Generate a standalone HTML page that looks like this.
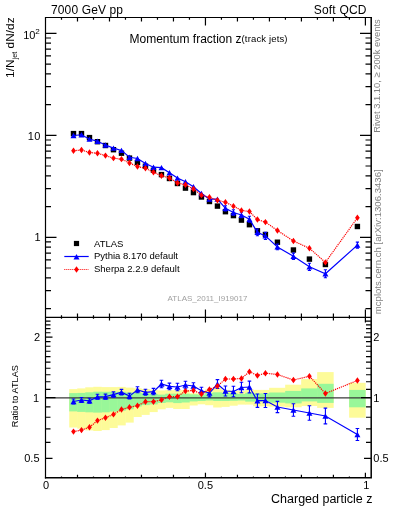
<!DOCTYPE html><html><head><meta charset="utf-8"><style>html,body{margin:0;padding:0;background:#fff;width:393px;height:512px;overflow:hidden}svg{display:block;will-change:transform}text{font-family:"Liberation Sans",sans-serif}</style></head><body>
<svg width="393" height="512" viewBox="0 0 393 512">
<g fill="#fdfb99"><rect x="69.24" y="389.10" width="8.50" height="38.40"/><rect x="77.24" y="388.40" width="8.50" height="40.30"/><rect x="85.24" y="387.30" width="8.50" height="43.10"/><rect x="93.24" y="386.80" width="8.50" height="44.20"/><rect x="101.23" y="387.10" width="8.50" height="43.00"/><rect x="109.23" y="387.10" width="8.50" height="40.90"/><rect x="117.23" y="386.90" width="8.50" height="38.50"/><rect x="125.22" y="387.60" width="8.50" height="35.00"/><rect x="133.22" y="388.30" width="8.50" height="28.70"/><rect x="141.22" y="389.00" width="8.50" height="25.90"/><rect x="149.22" y="389.70" width="8.50" height="22.40"/><rect x="157.22" y="390.40" width="8.50" height="18.90"/><rect x="165.21" y="390.20" width="8.50" height="17.70"/><rect x="173.21" y="390.20" width="8.50" height="18.80"/><rect x="181.21" y="390.20" width="8.50" height="18.80"/><rect x="189.20" y="393.20" width="8.50" height="12.30"/><rect x="197.20" y="393.70" width="8.50" height="10.60"/><rect x="205.20" y="389.30" width="8.50" height="15.90"/><rect x="213.20" y="387.60" width="8.50" height="19.90"/><rect x="221.19" y="389.90" width="8.50" height="17.00"/><rect x="229.19" y="390.50" width="8.50" height="15.20"/><rect x="237.19" y="391.10" width="8.50" height="13.50"/><rect x="245.19" y="389.30" width="8.50" height="15.30"/><rect x="253.19" y="389.90" width="8.50" height="16.40"/><rect x="261.18" y="389.90" width="8.50" height="16.40"/><rect x="269.18" y="387.80" width="16.50" height="18.80"/><rect x="285.17" y="384.70" width="16.50" height="22.60"/><rect x="301.17" y="379.10" width="16.50" height="26.90"/><rect x="317.16" y="372.10" width="16.50" height="35.80"/><rect x="349.15" y="382.80" width="16.50" height="34.90"/></g>
<g fill="#99f799"><rect x="69.24" y="393.10" width="8.50" height="18.30"/><rect x="77.24" y="392.90" width="8.50" height="19.00"/><rect x="85.24" y="392.30" width="8.50" height="20.00"/><rect x="93.24" y="391.70" width="8.50" height="20.90"/><rect x="101.23" y="391.80" width="8.50" height="20.50"/><rect x="109.23" y="391.80" width="8.50" height="19.80"/><rect x="117.23" y="391.80" width="8.50" height="18.90"/><rect x="125.22" y="392.50" width="8.50" height="16.80"/><rect x="133.22" y="392.90" width="8.50" height="13.60"/><rect x="141.22" y="393.20" width="8.50" height="11.90"/><rect x="149.22" y="393.90" width="8.50" height="10.50"/><rect x="157.22" y="394.60" width="8.50" height="8.40"/><rect x="165.21" y="393.70" width="8.50" height="8.60"/><rect x="173.21" y="393.70" width="8.50" height="9.40"/><rect x="181.21" y="393.70" width="8.50" height="8.80"/><rect x="189.20" y="394.30" width="8.50" height="7.10"/><rect x="197.20" y="394.60" width="8.50" height="6.40"/><rect x="205.20" y="392.80" width="8.50" height="7.70"/><rect x="213.20" y="392.30" width="8.50" height="8.70"/><rect x="221.19" y="392.80" width="8.50" height="8.20"/><rect x="229.19" y="393.40" width="8.50" height="7.40"/><rect x="237.19" y="394.00" width="8.50" height="6.50"/><rect x="245.19" y="392.80" width="8.50" height="8.80"/><rect x="253.19" y="393.40" width="8.50" height="8.20"/><rect x="261.18" y="393.40" width="8.50" height="7.80"/><rect x="269.18" y="392.50" width="16.50" height="10.20"/><rect x="285.17" y="390.90" width="16.50" height="12.50"/><rect x="301.17" y="388.40" width="16.50" height="13.00"/><rect x="317.16" y="383.80" width="16.50" height="19.10"/><rect x="349.15" y="389.90" width="16.50" height="17.40"/></g>
<line x1="45.5" y1="397.9" x2="371" y2="397.9" stroke="#3a3a3a" stroke-width="1.4"/>
<g stroke="#000" stroke-width="1.2" fill="none">
<path d="M45.5 16.9V478.4M44.9 17.5H371.95"/>
<path stroke-width="1.5" d="M371.2 16.9V478.4M44.9 477.65H371.95"/>
<line x1="45.5" y1="317.4" x2="371" y2="317.4"/>
<path d="M61.49 17.5v2.2M61.49 317.4v-2.2M61.49 317.4v1.3M61.49 477.7v-1.3M77.49 17.5v4M77.49 317.4v-4M77.49 317.4v3M77.49 477.7v-3M93.49 17.5v2.2M93.49 317.4v-2.2M93.49 317.4v1.3M93.49 477.7v-1.3M109.48 17.5v4M109.48 317.4v-4M109.48 317.4v3M109.48 477.7v-3M125.47 17.5v2.2M125.47 317.4v-2.2M125.47 317.4v1.3M125.47 477.7v-1.3M141.47 17.5v4M141.47 317.4v-4M141.47 317.4v3M141.47 477.7v-3M157.47 17.5v2.2M157.47 317.4v-2.2M157.47 317.4v1.3M157.47 477.7v-1.3M173.46 17.5v4M173.46 317.4v-4M173.46 317.4v3M173.46 477.7v-3M189.45 17.5v2.2M189.45 317.4v-2.2M189.45 317.4v1.3M189.45 477.7v-1.3M205.45 17.5v8M205.45 317.4v-8M205.45 317.4v5M205.45 477.7v-5M221.44 17.5v2.2M221.44 317.4v-2.2M221.44 317.4v1.3M221.44 477.7v-1.3M237.44 17.5v4M237.44 317.4v-4M237.44 317.4v3M237.44 477.7v-3M253.44 17.5v2.2M253.44 317.4v-2.2M253.44 317.4v1.3M253.44 477.7v-1.3M269.43 17.5v4M269.43 317.4v-4M269.43 317.4v3M269.43 477.7v-3M285.42 17.5v2.2M285.42 317.4v-2.2M285.42 317.4v1.3M285.42 477.7v-1.3M301.42 17.5v4M301.42 317.4v-4M301.42 317.4v3M301.42 477.7v-3M317.42 17.5v2.2M317.42 317.4v-2.2M317.42 317.4v1.3M317.42 477.7v-1.3M333.41 17.5v4M333.41 317.4v-4M333.41 317.4v3M333.41 477.7v-3M349.40 17.5v2.2M349.40 317.4v-2.2M349.40 317.4v1.3M349.40 477.7v-1.3M365.40 17.5v8M365.40 317.4v-8M365.40 317.4v5M365.40 477.7v-5"/>
<path d="M45.5 308.58h5.5M371 308.58h-5.5M45.5 290.62h5.5M371 290.62h-5.5M45.5 277.88h5.5M371 277.88h-5.5M45.5 268.00h5.5M371 268.00h-5.5M45.5 259.92h5.5M371 259.92h-5.5M45.5 253.10h5.5M371 253.10h-5.5M45.5 247.18h5.5M371 247.18h-5.5M45.5 241.97h5.5M371 241.97h-5.5M45.5 237.30h11M371 237.30h-11M45.5 206.60h5.5M371 206.60h-5.5M45.5 188.64h5.5M371 188.64h-5.5M45.5 175.90h5.5M371 175.90h-5.5M45.5 166.02h5.5M371 166.02h-5.5M45.5 157.94h5.5M371 157.94h-5.5M45.5 151.12h5.5M371 151.12h-5.5M45.5 145.20h5.5M371 145.20h-5.5M45.5 139.99h5.5M371 139.99h-5.5M45.5 135.32h11M371 135.32h-11M45.5 104.62h5.5M371 104.62h-5.5M45.5 86.66h5.5M371 86.66h-5.5M45.5 73.92h5.5M371 73.92h-5.5M45.5 64.04h5.5M371 64.04h-5.5M45.5 55.96h5.5M371 55.96h-5.5M45.5 49.14h5.5M371 49.14h-5.5M45.5 43.22h5.5M371 43.22h-5.5M45.5 38.01h5.5M371 38.01h-5.5M45.5 33.34h11M371 33.34h-11"/>
<path d="M45.5 458.36h7M371 458.36h-7M45.5 442.40h5M371 442.40h-5M45.5 428.91h5M371 428.91h-5M45.5 417.23h5M371 417.23h-5M45.5 406.92h5M371 406.92h-5M45.5 397.70h10M371 397.70h-10M45.5 389.36h5M371 389.36h-5M45.5 381.74h5M371 381.74h-5M45.5 374.74h5M371 374.74h-5M45.5 368.26h5M371 368.26h-5M45.5 362.22h5M371 362.22h-5M45.5 356.57h5M371 356.57h-5M45.5 351.26h5M371 351.26h-5M45.5 346.26h5M371 346.26h-5M45.5 341.53h5M371 341.53h-5M45.5 337.04h7M371 337.04h-7M45.5 332.77h5M371 332.77h-5M45.5 328.70h5M371 328.70h-5M45.5 324.81h5M371 324.81h-5M45.5 321.09h5M371 321.09h-5M45.5 317.52h5M371 317.52h-5"/>
</g>
<g>
<g fill="#000"><rect x="70.79" y="130.90" width="5.4" height="5.4"/><rect x="78.79" y="130.90" width="5.4" height="5.4"/><rect x="86.79" y="134.90" width="5.4" height="5.4"/><rect x="94.78" y="139.00" width="5.4" height="5.4"/><rect x="102.78" y="142.80" width="5.4" height="5.4"/><rect x="110.78" y="147.00" width="5.4" height="5.4"/><rect x="118.78" y="150.50" width="5.4" height="5.4"/><rect x="126.77" y="155.40" width="5.4" height="5.4"/><rect x="134.77" y="159.80" width="5.4" height="5.4"/><rect x="142.77" y="163.50" width="5.4" height="5.4"/><rect x="150.77" y="167.60" width="5.4" height="5.4"/><rect x="158.76" y="171.90" width="5.4" height="5.4"/><rect x="166.76" y="175.80" width="5.4" height="5.4"/><rect x="174.76" y="180.80" width="5.4" height="5.4"/><rect x="182.76" y="185.40" width="5.4" height="5.4"/><rect x="190.75" y="189.90" width="5.4" height="5.4"/><rect x="198.75" y="194.30" width="5.4" height="5.4"/><rect x="206.75" y="198.80" width="5.4" height="5.4"/><rect x="214.75" y="203.40" width="5.4" height="5.4"/><rect x="222.74" y="209.00" width="5.4" height="5.4"/><rect x="230.74" y="212.90" width="5.4" height="5.4"/><rect x="238.74" y="217.40" width="5.4" height="5.4"/><rect x="246.74" y="222.00" width="5.4" height="5.4"/><rect x="254.73" y="228.10" width="5.4" height="5.4"/><rect x="262.73" y="231.80" width="5.4" height="5.4"/><rect x="274.73" y="239.50" width="5.4" height="5.4"/><rect x="290.72" y="247.30" width="5.4" height="5.4"/><rect x="306.72" y="256.40" width="5.4" height="5.4"/><rect x="322.71" y="261.80" width="5.4" height="5.4"/><rect x="354.70" y="223.80" width="5.4" height="5.4"/></g>
<polyline points="73.49,135.52 81.49,134.76 89.49,139.17 97.48,141.24 105.48,144.99 113.48,148.13 121.48,150.42 129.47,157.29 137.47,158.50 145.47,163.47 153.47,167.22 161.46,167.67 169.46,172.79 177.46,178.09 185.46,181.68 193.45,186.68 201.45,193.51 209.45,199.17 217.45,199.17 225.44,208.31 233.44,212.46 241.44,214.94 249.44,219.29 257.43,232.32 265.43,235.92 277.43,246.90 293.42,256.22 309.42,266.84 325.41,273.75 357.40,245.11" fill="none" stroke="#00f" stroke-width="1.2"/>
<path stroke="#00f" stroke-width="1.1" d="M225.44 205.78V210.84M223.84 205.78h3.2M223.84 210.84h3.2M233.44 209.78V215.14M231.84 209.78h3.2M231.84 215.14h3.2M241.44 212.26V217.62M239.84 212.26h3.2M239.84 217.62h3.2M249.44 216.31V222.27M247.84 216.31h3.2M247.84 222.27h3.2M257.43 228.93V235.71M255.83 228.93h3.2M255.83 235.71h3.2M265.43 232.38V239.46M263.83 232.38h3.2M263.83 239.46h3.2M277.43 244.07V249.74M275.83 244.07h3.2M275.83 249.74h3.2M293.42 253.08V259.36M291.82 253.08h3.2M291.82 259.36h3.2M309.42 263.20V270.48M307.82 263.20h3.2M307.82 270.48h3.2M325.41 269.76V277.75M323.81 269.76h3.2M323.81 277.75h3.2M357.40 242.08V248.14M355.80 242.08h3.2M355.80 248.14h3.2"/>
<path fill="#00f" d="M70.49 138.22L73.49 132.82L76.49 138.22ZM78.49 137.46L81.49 132.06L84.49 137.46ZM86.49 141.87L89.49 136.47L92.49 141.87ZM94.48 143.94L97.48 138.54L100.48 143.94ZM102.48 147.69L105.48 142.29L108.48 147.69ZM110.48 150.83L113.48 145.43L116.48 150.83ZM118.48 153.12L121.48 147.72L124.48 153.12ZM126.47 159.99L129.47 154.59L132.47 159.99ZM134.47 161.20L137.47 155.80L140.47 161.20ZM142.47 166.17L145.47 160.77L148.47 166.17ZM150.47 169.92L153.47 164.52L156.47 169.92ZM158.46 170.37L161.46 164.97L164.46 170.37ZM166.46 175.49L169.46 170.09L172.46 175.49ZM174.46 180.79L177.46 175.39L180.46 180.79ZM182.46 184.38L185.46 178.98L188.46 184.38ZM190.45 189.38L193.45 183.98L196.45 189.38ZM198.45 196.21L201.45 190.81L204.45 196.21ZM206.45 201.87L209.45 196.47L212.45 201.87ZM214.45 201.87L217.45 196.47L220.45 201.87ZM222.44 211.01L225.44 205.61L228.44 211.01ZM230.44 215.16L233.44 209.76L236.44 215.16ZM238.44 217.64L241.44 212.24L244.44 217.64ZM246.44 221.99L249.44 216.59L252.44 221.99ZM254.43 235.02L257.43 229.62L260.43 235.02ZM262.43 238.62L265.43 233.22L268.43 238.62ZM274.43 249.60L277.43 244.20L280.43 249.60ZM290.42 258.92L293.42 253.52L296.42 258.92ZM306.42 269.54L309.42 264.14L312.42 269.54ZM322.41 276.45L325.41 271.05L328.41 276.45ZM354.40 247.81L357.40 242.41L360.40 247.81Z"/>
<polyline points="73.49,150.74 81.49,149.98 89.49,152.52 97.48,153.28 105.48,155.61 113.48,158.15 121.48,159.17 129.47,162.95 137.47,166.55 145.47,168.22 153.47,172.32 161.46,175.71 169.46,177.99 177.46,182.94 185.46,184.76 193.45,188.96 201.45,195.13 209.45,197.30 217.45,200.23 225.44,202.24 233.44,206.14 241.44,210.39 249.44,211.55 257.43,219.57 265.43,222.11 277.43,230.47 293.42,241.05 309.42,248.23 325.41,262.38 357.40,217.80" fill="none" stroke="#f00" stroke-width="1.2" stroke-dasharray="1.2 0.9"/>
<path fill="#f00" d="M73.49 147.54L75.84 150.74L73.49 153.94L71.14 150.74ZM81.49 146.78L83.84 149.98L81.49 153.18L79.14 149.98ZM89.49 149.32L91.84 152.52L89.49 155.72L87.14 152.52ZM97.48 150.08L99.83 153.28L97.48 156.48L95.13 153.28ZM105.48 152.41L107.83 155.61L105.48 158.81L103.13 155.61ZM113.48 154.95L115.83 158.15L113.48 161.35L111.13 158.15ZM121.48 155.97L123.83 159.17L121.48 162.37L119.13 159.17ZM129.47 159.75L131.82 162.95L129.47 166.15L127.12 162.95ZM137.47 163.35L139.82 166.55L137.47 169.75L135.12 166.55ZM145.47 165.02L147.82 168.22L145.47 171.42L143.12 168.22ZM153.47 169.12L155.82 172.32L153.47 175.52L151.12 172.32ZM161.46 172.51L163.81 175.71L161.46 178.91L159.11 175.71ZM169.46 174.79L171.81 177.99L169.46 181.19L167.11 177.99ZM177.46 179.74L179.81 182.94L177.46 186.14L175.11 182.94ZM185.46 181.56L187.81 184.76L185.46 187.96L183.11 184.76ZM193.45 185.76L195.80 188.96L193.45 192.16L191.10 188.96ZM201.45 191.93L203.80 195.13L201.45 198.33L199.10 195.13ZM209.45 194.10L211.80 197.30L209.45 200.50L207.10 197.30ZM217.45 197.03L219.80 200.23L217.45 203.43L215.10 200.23ZM225.44 199.04L227.79 202.24L225.44 205.44L223.09 202.24ZM233.44 202.94L235.79 206.14L233.44 209.34L231.09 206.14ZM241.44 207.19L243.79 210.39L241.44 213.59L239.09 210.39ZM249.44 208.35L251.79 211.55L249.44 214.75L247.09 211.55ZM257.43 216.37L259.78 219.57L257.43 222.77L255.08 219.57ZM265.43 218.91L267.78 222.11L265.43 225.31L263.08 222.11ZM277.43 227.27L279.78 230.47L277.43 233.67L275.08 230.47ZM293.42 237.85L295.77 241.05L293.42 244.25L291.07 241.05ZM309.42 245.03L311.77 248.23L309.42 251.43L307.07 248.23ZM325.41 259.18L327.76 262.38L325.41 265.58L323.06 262.38ZM357.40 214.60L359.75 217.80L357.40 221.00L355.05 217.80Z"/>
</g>
<polyline points="73.49,401.50 81.49,400.00 89.49,400.80 97.48,396.80 105.48,396.70 113.48,394.60 121.48,392.20 129.47,396.10 137.47,389.80 145.47,392.30 153.47,391.60 161.46,384.00 169.46,386.40 177.46,387.00 185.46,385.00 193.45,386.00 201.45,390.80 209.45,393.10 217.45,384.00 225.44,391.00 233.44,391.50 241.44,387.50 249.44,387.00 257.43,400.70 265.43,400.50 277.43,407.00 293.42,410.00 309.42,413.00 325.41,416.00 357.40,434.50" fill="none" stroke="#00f" stroke-width="1.2"/>
<path stroke="#00f" stroke-width="1.1" d="M73.49 399.00V404.00M71.69 399.00h3.6M71.69 404.00h3.6M81.49 397.50V402.50M79.69 397.50h3.6M79.69 402.50h3.6M89.49 398.30V403.30M87.69 398.30h3.6M87.69 403.30h3.6M97.48 394.30V399.30M95.68 394.30h3.6M95.68 399.30h3.6M105.48 394.10V399.30M103.68 394.10h3.6M103.68 399.30h3.6M113.48 391.90V397.30M111.68 391.90h3.6M111.68 397.30h3.6M121.48 389.40V395.00M119.68 389.40h3.6M119.68 395.00h3.6M129.47 393.30V398.90M127.67 393.30h3.6M127.67 398.90h3.6M137.47 386.80V392.80M135.67 386.80h3.6M135.67 392.80h3.6M145.47 389.30V395.30M143.67 389.30h3.6M143.67 395.30h3.6M153.47 388.40V394.80M151.67 388.40h3.6M151.67 394.80h3.6M161.46 380.20V387.80M159.66 380.20h3.6M159.66 387.80h3.6M169.46 383.10V389.70M167.66 383.10h3.6M167.66 389.70h3.6M177.46 383.20V390.80M175.66 383.20h3.6M175.66 390.80h3.6M185.46 381.20V388.80M183.66 381.20h3.6M183.66 388.80h3.6M193.45 382.80V389.20M191.65 382.80h3.6M191.65 389.20h3.6M201.45 387.30V394.30M199.65 387.30h3.6M199.65 394.30h3.6M209.45 389.30V396.90M207.65 389.30h3.6M207.65 396.90h3.6M217.45 379.60V388.40M215.65 379.60h3.6M215.65 388.40h3.6M225.44 386.00V396.00M223.64 386.00h3.6M223.64 396.00h3.6M233.44 386.20V396.80M231.64 386.20h3.6M231.64 396.80h3.6M241.44 382.20V392.80M239.64 382.20h3.6M239.64 392.80h3.6M249.44 381.10V392.90M247.64 381.10h3.6M247.64 392.90h3.6M257.43 394.00V407.40M255.63 394.00h3.6M255.63 407.40h3.6M265.43 393.50V407.50M263.63 393.50h3.6M263.63 407.50h3.6M277.43 401.40V412.60M275.63 401.40h3.6M275.63 412.60h3.6M293.42 403.80V416.20M291.62 403.80h3.6M291.62 416.20h3.6M309.42 405.80V420.20M307.62 405.80h3.6M307.62 420.20h3.6M325.41 408.10V423.90M323.61 408.10h3.6M323.61 423.90h3.6M357.40 428.50V440.50M355.60 428.50h3.6M355.60 440.50h3.6"/>
<path fill="#00f" d="M70.49 404.20L73.49 398.80L76.49 404.20ZM78.49 402.70L81.49 397.30L84.49 402.70ZM86.49 403.50L89.49 398.10L92.49 403.50ZM94.48 399.50L97.48 394.10L100.48 399.50ZM102.48 399.40L105.48 394.00L108.48 399.40ZM110.48 397.30L113.48 391.90L116.48 397.30ZM118.48 394.90L121.48 389.50L124.48 394.90ZM126.47 398.80L129.47 393.40L132.47 398.80ZM134.47 392.50L137.47 387.10L140.47 392.50ZM142.47 395.00L145.47 389.60L148.47 395.00ZM150.47 394.30L153.47 388.90L156.47 394.30ZM158.46 386.70L161.46 381.30L164.46 386.70ZM166.46 389.10L169.46 383.70L172.46 389.10ZM174.46 389.70L177.46 384.30L180.46 389.70ZM182.46 387.70L185.46 382.30L188.46 387.70ZM190.45 388.70L193.45 383.30L196.45 388.70ZM198.45 393.50L201.45 388.10L204.45 393.50ZM206.45 395.80L209.45 390.40L212.45 395.80ZM214.45 386.70L217.45 381.30L220.45 386.70ZM222.44 393.70L225.44 388.30L228.44 393.70ZM230.44 394.20L233.44 388.80L236.44 394.20ZM238.44 390.20L241.44 384.80L244.44 390.20ZM246.44 389.70L249.44 384.30L252.44 389.70ZM254.43 403.40L257.43 398.00L260.43 403.40ZM262.43 403.20L265.43 397.80L268.43 403.20ZM274.43 409.70L277.43 404.30L280.43 409.70ZM290.42 412.70L293.42 407.30L296.42 412.70ZM306.42 415.70L309.42 410.30L312.42 415.70ZM322.41 418.70L325.41 413.30L328.41 418.70ZM354.40 437.20L357.40 431.80L360.40 437.20Z"/>
<polyline points="73.49,431.60 81.49,430.10 89.49,427.20 97.48,420.60 105.48,417.70 113.48,414.40 121.48,409.50 129.47,407.30 137.47,405.70 145.47,401.70 153.47,401.70 161.46,399.90 169.46,396.70 177.46,396.60 185.46,391.10 193.45,390.50 201.45,394.00 209.45,389.40 217.45,386.10 225.44,379.00 233.44,379.00 241.44,378.50 249.44,371.70 257.43,375.50 265.43,373.20 277.43,374.50 293.42,380.00 309.42,376.20 325.41,393.50 357.40,380.50" fill="none" stroke="#f00" stroke-width="1.2" stroke-dasharray="1.2 0.9"/>
<path fill="#f00" d="M73.49 428.40L75.84 431.60L73.49 434.80L71.14 431.60ZM81.49 426.90L83.84 430.10L81.49 433.30L79.14 430.10ZM89.49 424.00L91.84 427.20L89.49 430.40L87.14 427.20ZM97.48 417.40L99.83 420.60L97.48 423.80L95.13 420.60ZM105.48 414.50L107.83 417.70L105.48 420.90L103.13 417.70ZM113.48 411.20L115.83 414.40L113.48 417.60L111.13 414.40ZM121.48 406.30L123.83 409.50L121.48 412.70L119.13 409.50ZM129.47 404.10L131.82 407.30L129.47 410.50L127.12 407.30ZM137.47 402.50L139.82 405.70L137.47 408.90L135.12 405.70ZM145.47 398.50L147.82 401.70L145.47 404.90L143.12 401.70ZM153.47 398.50L155.82 401.70L153.47 404.90L151.12 401.70ZM161.46 396.70L163.81 399.90L161.46 403.10L159.11 399.90ZM169.46 393.50L171.81 396.70L169.46 399.90L167.11 396.70ZM177.46 393.40L179.81 396.60L177.46 399.80L175.11 396.60ZM185.46 387.90L187.81 391.10L185.46 394.30L183.11 391.10ZM193.45 387.30L195.80 390.50L193.45 393.70L191.10 390.50ZM201.45 390.80L203.80 394.00L201.45 397.20L199.10 394.00ZM209.45 386.20L211.80 389.40L209.45 392.60L207.10 389.40ZM217.45 382.90L219.80 386.10L217.45 389.30L215.10 386.10ZM225.44 375.80L227.79 379.00L225.44 382.20L223.09 379.00ZM233.44 375.80L235.79 379.00L233.44 382.20L231.09 379.00ZM241.44 375.30L243.79 378.50L241.44 381.70L239.09 378.50ZM249.44 368.50L251.79 371.70L249.44 374.90L247.09 371.70ZM257.43 372.30L259.78 375.50L257.43 378.70L255.08 375.50ZM265.43 370.00L267.78 373.20L265.43 376.40L263.08 373.20ZM277.43 371.30L279.78 374.50L277.43 377.70L275.08 374.50ZM293.42 376.80L295.77 380.00L293.42 383.20L291.07 380.00ZM309.42 373.00L311.77 376.20L309.42 379.40L307.07 376.20ZM325.41 390.30L327.76 393.50L325.41 396.70L323.06 393.50ZM357.40 377.30L359.75 380.50L357.40 383.70L355.05 380.50Z"/>
<rect x="73.9" y="240.9" width="5.2" height="5.2" fill="#000"/>
<line x1="64.3" y1="256.5" x2="88.7" y2="256.5" stroke="#00f" stroke-width="1.2"/>
<path fill="#00f" d="M73.50 259.50L76.50 254.10L79.50 259.50Z"/>
<line x1="64.3" y1="269.5" x2="88.7" y2="269.5" stroke="#f00" stroke-width="1" stroke-dasharray="1 1"/>
<path fill="#f00" d="M76.50 266.30L78.85 269.50L76.50 272.70L74.15 269.50Z"/>
<g font-size="9.5" fill="#000">
<text x="94" y="247">ATLAS</text>
<text x="94" y="259.3">Pythia 8.170 default</text>
<text x="94" y="271.6">Sherpa 2.2.9 default</text>
</g>
<text x="51" y="14.2" font-size="12" letter-spacing="0.13">7000 GeV pp</text>
<text x="366.7" y="14.2" font-size="12" text-anchor="end" letter-spacing="0.2">Soft QCD</text>
<text x="129.5" y="43" font-size="12">Momentum fraction z<tspan font-size="9.5" dy="-0.9" letter-spacing="0.15">(track jets)</tspan></text>
<text x="372.5" y="503.3" font-size="12.5" text-anchor="end">Charged particle z</text>
<text x="207.5" y="300.9" font-size="8" fill="#a0a0a0" text-anchor="middle">ATLAS_2011_I919017</text>
<g font-size="11">
<text x="35.4" y="38.8" text-anchor="end">10</text><text x="35.3" y="33.8" font-size="8.1">2</text>
<text x="41.0" y="140.2" text-anchor="end" letter-spacing="0.5">10</text>
<text x="40.5" y="241.3" text-anchor="end">1</text>
<text x="40" y="341.1" text-anchor="end">2</text>
<text x="39.2" y="401.8" text-anchor="end">1</text>
<text x="39.5" y="462.2" text-anchor="end">0.5</text>
<text x="373.3" y="341.1">2</text><text x="373.3" y="402.3">1</text><text x="373.3" y="462.2">0.5</text>
<text x="46.1" y="489.2" text-anchor="middle">0</text>
<text x="205.4" y="489" text-anchor="middle">0.5</text>
<text x="366.2" y="489.2" text-anchor="middle">1</text>
</g>
<text transform="translate(14.2,77.9) rotate(-90)" font-size="11.8" letter-spacing="0.06">1/N<tspan font-size="7.2" dy="3" letter-spacing="0">jet</tspan><tspan dy="-3"> dN/dz</tspan></text>
<text transform="translate(18,427.2) rotate(-90)" font-size="9.2">Ratio to ATLAS</text>
<g fill="#808080" font-size="9.5">
<text transform="translate(380.3,132.8) rotate(-90)" font-size="9.38">Rivet 3.1.10, ≥ 200k events</text>
<text transform="translate(381.2,314.2) rotate(-90)" font-size="9.58">mcplots.cern.ch [arXiv:1306.3436]</text>
</g>
</svg></body></html>
